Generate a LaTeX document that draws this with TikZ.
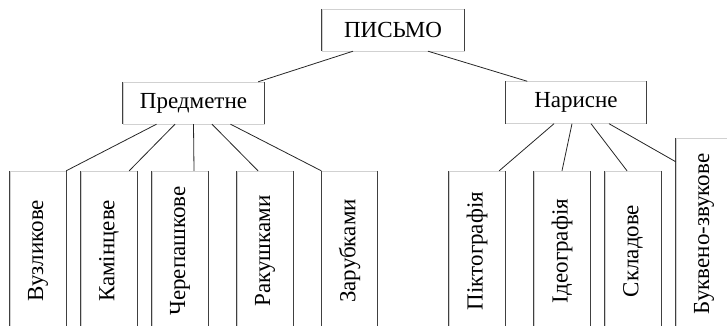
\documentclass[tikz,border=0pt]{standalone}
\usepackage{fontspec}
\setmainfont{Liberation Serif}
\usepackage{xcolor}
\usepackage{tikz}
\tikzset{
  box/.style={draw=black!18, inner sep=0pt, align=center, font=\fontsize{23}{27}\selectfont},
  head/.style={box, minimum width=141pt, minimum height=42pt},
  leaf/.style={box, minimum width=56pt, minimum height=160pt},
  side/.style={draw=black!75, line width=0.9pt},
  link/.style={draw=black!85, line width=0.8pt}
}

\begin{document}
\begin{tikzpicture}[x=1pt,y=-1pt]
    \useasboundingbox (0,0) rectangle (727,326);
    \clip (0,0) rectangle (727,326);
    % Top levels
    \node[head, minimum width=142pt] (pismo) at (393,30) {ПИСЬМО};
    \node[head] (pred) at (193.5,103) {Предметне};
    \node[head] (nar) at (576,102.5) {Нарисне};
    % Leaves (text turned up)
    \foreach \x/\name/\txt in {38/vuz/Вузликове, 109/kam/Камінцеве, 180/cher/Черепашкове,
                               265/rak/Ракушками, 349.5/zar/Зарубками, 477/pikt/Піктографія,
                               562/ideo/Ідеографія, 633/sklad/Складове} {
      \node[leaf] (\name) at (\x,251) {\rotatebox{90}{\txt}};
    }
    \node[leaf, minimum height=192pt] (bukv) at (704,234) {\rotatebox{90}{Буквено-звукове}};
    % Dark sides of every box
    \foreach \n in {pismo,pred,nar,vuz,kam,cher,rak,zar,pikt,ideo,sklad,bukv} {
      \draw[side] (\n.north west) -- (\n.south west) (\n.north east) -- (\n.south east);
    }
    % Links from the root
    \draw[link] ([xshift=-40pt]pismo.south) -- ([xshift=-6pt]pred.north east);
    \draw[link] ([xshift=35pt]pismo.south) -- ([xshift=22pt]nar.north west);
    % Links of Предметне
    \draw[link] ([xshift=-37pt]pred.south) -- (vuz.north east);
    \draw[link] ([xshift=-18.5pt]pred.south) -- ([xshift=-8pt]kam.north east);
    \draw[link] (pred.south) -- ([xshift=14pt]cher.north);
    \draw[link] ([xshift=18.5pt]pred.south) -- ([xshift=-7pt]rak.north);
    \draw[link] ([xshift=37pt]pred.south) -- (zar.north west);
    % Links of Нарисне
    \draw[link] ([xshift=-22pt]nar.south) -- ([xshift=-6pt]pikt.north east);
    \draw[link] ([xshift=-4pt]nar.south) -- (ideo.north);
    \draw[link] ([xshift=15pt]nar.south) -- ([xshift=-6pt]sklad.north);
    \draw[link] ([xshift=33pt]nar.south) -- ([yshift=-24pt]bukv.north west);
\end{tikzpicture}
\end{document}
